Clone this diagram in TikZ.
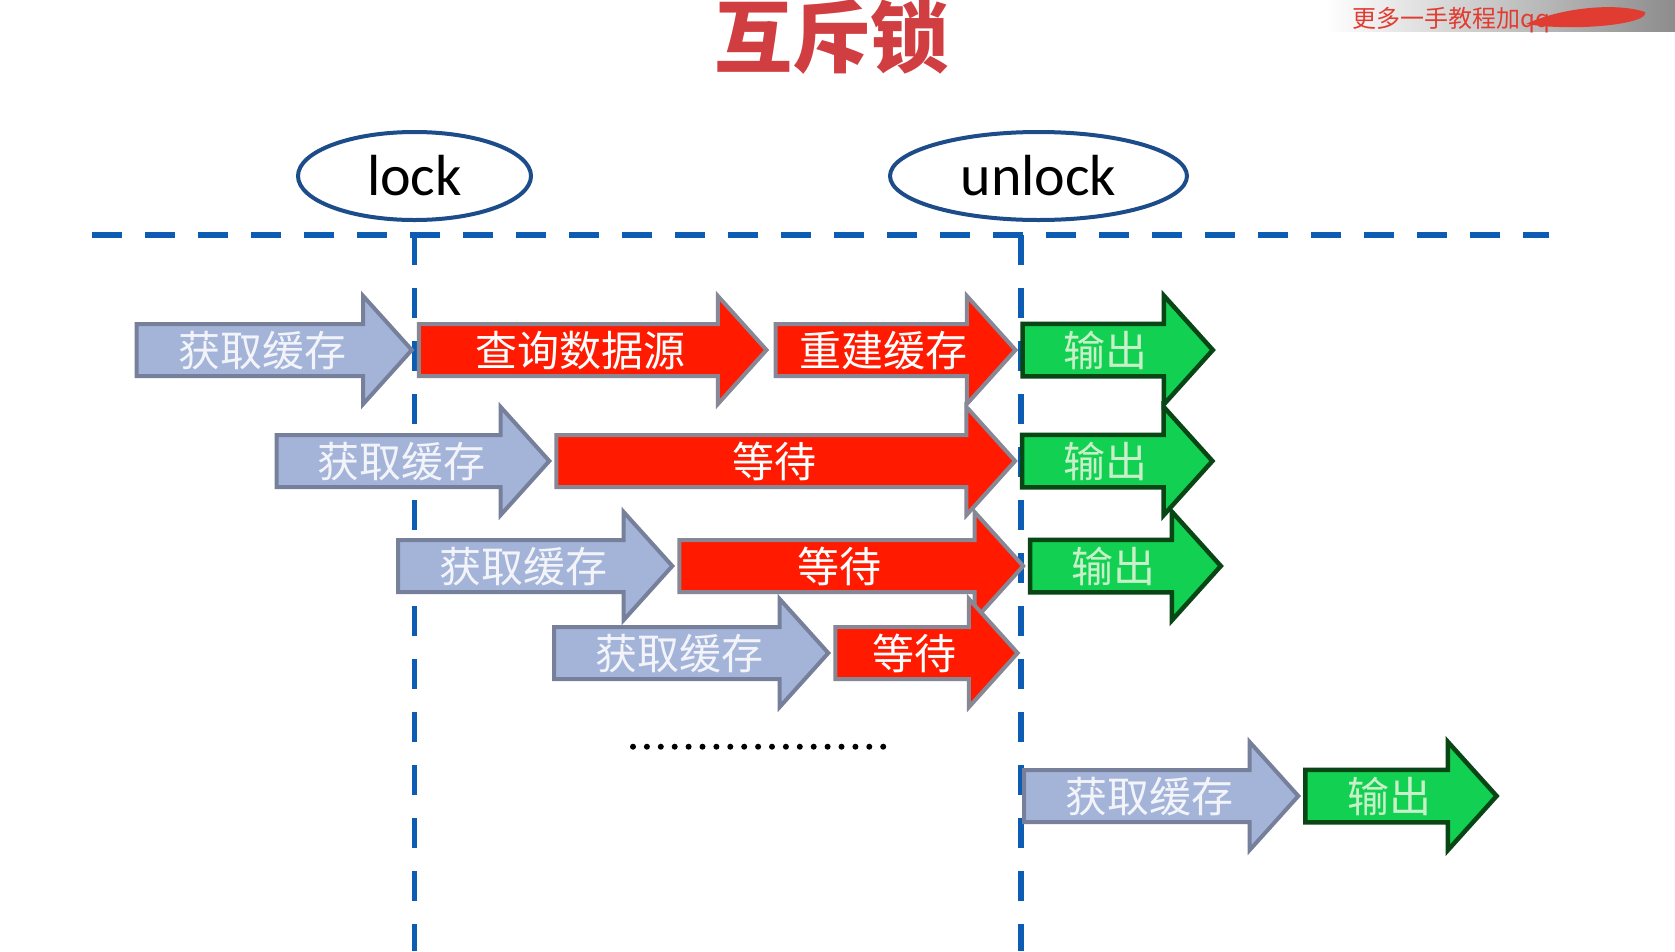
\documentclass[tikz,border=0pt]{standalone}
\usepackage{fontspec}
\setmainfont{Carlito}
\newfontfamily\cjk{Noto Sans CJK SC}
\usetikzlibrary{shapes.geometric,shapes.arrows,positioning}

\definecolor{getfill}{RGB}{164,180,216}
\definecolor{getdraw}{RGB}{118,128,155}
\definecolor{gettext}{RGB}{242,244,250}
\definecolor{waitfill}{RGB}{255,26,0}
\definecolor{waitdraw}{RGB}{135,135,150}
\definecolor{outfill}{RGB}{18,208,82}
\definecolor{outdraw}{RGB}{8,70,22}
\definecolor{outtext}{RGB}{200,240,200}
\definecolor{lineblue}{RGB}{12,92,180}
\definecolor{ovalblue}{RGB}{28,76,138}
\definecolor{titlered}{RGB}{208,62,66}
\definecolor{markred}{RGB}{225,60,50}

\begin{document}
\begin{tikzpicture}[
                x=1pt, y=-1pt,
                blockarrow/.style={
                    single arrow,
                    anchor=tail,
                    outer sep=0,
                    single arrow head extend=28,
                    single arrow tip angle=96,
                    single arrow head indent=0,
                    inner xsep=4,
                    inner ysep=4,
                    text height=36,
                    text depth=4,
                    line width=4,
                    font=\cjk\fontsize{42}{42}\selectfont
                },
                getarrow/.style={
                    blockarrow,
                    fill=getfill,
                    draw=getdraw,
                    text=gettext
                },
                waitarrow/.style={
                    blockarrow,
                    fill=waitfill,
                    draw=waitdraw,
                    text=white
                },
                outarrow/.style={
                    blockarrow,
                    fill=outfill,
                    draw=outdraw,
                    line width=4.5,
                    text=outtext
                },
                lockoval/.style={
                    ellipse,
                    draw=ovalblue,
                    line width=4,
                    minimum height=88,
                    font=\fontsize{58}{58}\selectfont
                },
                timeline/.style={
                    draw=lineblue,
                    line width=5.5,
                    dash pattern=on 30pt off 23pt
                }
            ]

    \fill[white] (0,0) rectangle (1675,951);
    \useasboundingbox (0,0) rectangle (1675,951);

    % watermark
    \shade[left color=white, right color=black!45] (1325,0) rectangle (1675,31);
    \node[anchor=west, inner sep=0, text=markred, font=\cjk\fontsize{24}{24}\selectfont] (mark) at (1352,20) {更多一手教程加qq};
    \fill[markred] (1526,24) .. controls (1560,8) and (1615,2) .. (1645,12) .. controls (1650,24) and (1575,32) .. (1526,24);

    \node[text=titlered, font=\cjk\bfseries\fontsize{78}{78}\selectfont] (title) at (831,37) {互斥锁};

    \node[lockoval, minimum width=233] (lock) at (414.5,176) {lock};
    \node[lockoval, minimum width=297] (unlock) at (1038.5,176) {unlock};

    \coordinate (lineL) at (92,235);
    \coordinate (lineR) at (1549,235);
    \coordinate (lockTop) at (414.5,235);
    \coordinate (lockEnd) at (414.5,951);
    \coordinate (unlockTop) at (1021,235);
    \coordinate (unlockEnd) at (1021,951);
    \draw[timeline] (lineL) -- (lineR);
    \draw[timeline] (lockTop) -- (lockEnd);
    \draw[timeline] (unlockTop) -- (unlockEnd);

    % first request rebuilds the cache
    \node[getarrow, minimum height=275.2] (get1) at (136.6,350) {获取缓存};
    \node[waitarrow, minimum height=347.7] (query1) at ([xshift=7]get1.tip) {查询数据源};
    \node[waitarrow, minimum height=239.8] (rebuild1) at ([xshift=9.2]query1.tip) {重建缓存};
    \node[outarrow, minimum height=190.3] (out1) at ([xshift=7]rebuild1.tip) {输出};

    \node[getarrow, minimum height=272.8] (get2) at (276.5,461) {获取缓存};
    \node[waitarrow, minimum height=458.8] (wait2) at ([xshift=7]get2.tip) {等待};
    \node[outarrow, minimum height=190.3] (out2) at ([xshift=7]wait2.tip) {输出};

    \node[getarrow, minimum height=274.3] (get3) at (398,566) {获取缓存};
    \node[waitarrow, minimum height=343.9] (wait3) at ([xshift=7]get3.tip) {等待};
    \node[outarrow, minimum height=190.6] (out3) at ([xshift=7]wait3.tip) {输出};

    \node[getarrow, minimum height=274.3] (get4) at (554,653) {获取缓存};
    \node[waitarrow, minimum height=182.3] (wait4) at ([xshift=7]get4.tip) {等待};

    \coordinate (dotsL) at (633,746.7);
    \coordinate (dotsR) at (883.5,746.7);
    \draw[line width=6, line cap=round, dash pattern=on 0pt off 13.9pt] (dotsL) -- (dotsR);

    \node[getarrow, minimum height=274.3] (get5) at (1024,796) {获取缓存};
    \node[outarrow, minimum height=191.3] (out5) at ([xshift=7]get5.tip) {输出};
\end{tikzpicture}
\end{document}
